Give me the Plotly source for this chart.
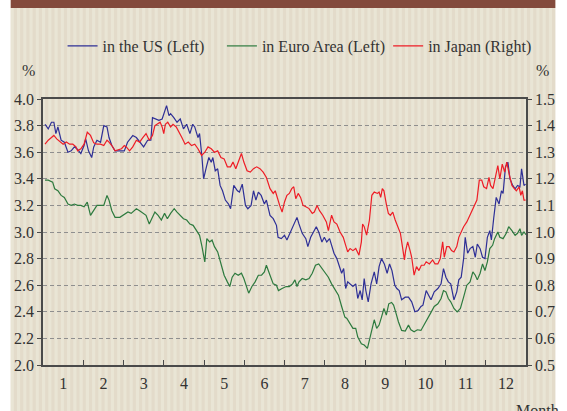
import plotly.graph_objects as go

# Long-term government bond yields, daily, plotted by month of the year
us_month = [0.05, 0.13, 0.21, 0.27, 0.32, 0.37, 0.45, 0.53, 0.62, 0.70, 0.78, 0.86, 0.94, 1.02, 1.06,
            1.13, 1.21, 1.26, 1.34, 1.43, 1.51, 1.59, 1.64, 1.71, 1.79, 1.91, 2.02, 2.10, 2.23, 2.32,
            2.40, 2.50, 2.60, 2.68, 2.72, 2.80, 2.88, 2.96, 3.00, 3.07, 3.13, 3.17, 3.25, 3.33, 3.41,
            3.49, 3.57, 3.65, 3.72, 3.77, 3.85, 3.89, 3.95, 3.99, 4.06, 4.12, 4.18, 4.22, 4.28, 4.34,
            4.40, 4.46, 4.53, 4.61, 4.66, 4.74, 4.83, 4.88, 4.95, 5.03, 5.09, 5.17, 5.23, 5.29, 5.35,
            5.42, 5.50, 5.55, 5.64, 5.72, 5.80, 5.84, 5.92, 6.00, 6.06, 6.15, 6.23, 6.31, 6.36, 6.44,
            6.53, 6.58, 6.65, 6.73, 6.79, 6.85, 6.93, 6.99, 7.05, 7.12, 7.17, 7.23, 7.30, 7.36, 7.42,
            7.47, 7.52, 7.57, 7.63, 7.70, 7.77, 7.82, 7.88, 7.93, 7.98, 8.02, 8.08, 8.15, 8.23, 8.29,
            8.35, 8.41, 8.48, 8.55, 8.61, 8.67, 8.74, 8.79, 8.85, 8.91, 9.00, 9.08, 9.16, 9.24, 9.32,
            9.39, 9.44, 9.52, 9.58, 9.64, 9.72, 9.81, 9.89, 9.95, 10.01, 10.07, 10.13, 10.21, 10.28,
            10.33, 10.39, 10.45, 10.49, 10.55, 10.61, 10.68, 10.74, 10.79, 10.86, 10.92, 10.98, 11.04,
            11.10, 11.14, 11.20, 11.26, 11.33, 11.39, 11.43, 11.49, 11.55, 11.60, 11.67, 11.73, 11.79,
            11.85, 11.89, 11.95, 11.99]
us_yield = [3.81, 3.775, 3.825, 3.825, 3.74, 3.79, 3.69, 3.675, 3.60, 3.61, 3.64, 3.62, 3.59, 3.65, 3.70,
            3.61, 3.56, 3.64, 3.69, 3.675, 3.80, 3.79, 3.71, 3.65, 3.61, 3.61, 3.61, 3.675, 3.725, 3.71,
            3.675, 3.64, 3.69, 3.69, 3.86, 3.85, 3.84, 3.85, 3.89, 3.95, 3.875, 3.89, 3.86, 3.825, 3.85,
            3.775, 3.81, 3.74, 3.81, 3.79, 3.71, 3.74, 3.56, 3.40, 3.49, 3.56, 3.525, 3.56, 3.46, 3.475,
            3.35, 3.31, 3.24, 3.21, 3.175, 3.35, 3.31, 3.30, 3.36, 3.20, 3.175, 3.20, 3.31, 3.24, 3.30,
            3.275, 3.21, 3.24, 3.125, 3.10, 3.05, 2.96, 2.95, 2.975, 2.94, 3.00, 3.05, 3.11, 3.06, 2.99,
            2.95, 2.89, 2.96, 3.00, 3.04, 3.00, 2.925, 2.96, 2.925, 2.95, 2.90, 2.84, 2.80, 2.75, 2.69,
            2.725, 2.575, 2.625, 2.61, 2.59, 2.61, 2.50, 2.56, 2.49, 2.65, 2.56, 2.475, 2.61, 2.70, 2.61,
            2.74, 2.80, 2.76, 2.69, 2.76, 2.71, 2.60, 2.575, 2.56, 2.49, 2.51, 2.51, 2.475, 2.40, 2.41,
            2.44, 2.45, 2.56, 2.525, 2.49, 2.55, 2.575, 2.61, 2.725, 2.66, 2.625, 2.61, 2.49, 2.55,
            2.64, 2.66, 2.80, 2.96, 2.84, 2.875, 2.89, 2.81, 2.91, 2.875, 2.81, 2.80, 2.96,
            3.01, 2.94, 3.11, 3.26, 3.21, 3.31, 3.29, 3.49, 3.525, 3.40, 3.35, 3.325, 3.35,
            3.34, 3.475, 3.35, 3.36]

euro_month = [0.05, 0.13, 0.24, 0.29, 0.37, 0.45, 0.53, 0.62, 0.70, 0.78, 0.86, 0.94, 1.02, 1.10, 1.18,
              1.26, 1.34, 1.43, 1.51, 1.59, 1.64, 1.71, 1.79, 1.91, 2.02, 2.11, 2.19, 2.32, 2.40, 2.48,
              2.56, 2.64, 2.70, 2.78, 2.86, 2.94, 3.02, 3.09, 3.17, 3.26, 3.33, 3.41, 3.49, 3.57, 3.65,
              3.73, 3.81, 3.89, 3.95, 4.02, 4.07, 4.14, 4.20, 4.26, 4.34, 4.42, 4.50, 4.58, 4.64, 4.70,
              4.77, 4.85, 4.93, 4.99, 5.04, 5.11, 5.19, 5.27, 5.35, 5.43, 5.50, 5.55, 5.64, 5.72, 5.80,
              5.85, 5.94, 6.04, 6.12, 6.20, 6.26, 6.31, 6.36, 6.44, 6.53, 6.61, 6.69, 6.77, 6.85, 6.93,
              7.01, 7.09, 7.17, 7.26, 7.34, 7.42, 7.50, 7.55, 7.62, 7.70, 7.77, 7.82, 7.91, 7.98, 8.06,
              8.12, 8.17, 8.23, 8.29, 8.35, 8.41, 8.47, 8.53, 8.59, 8.66, 8.71, 8.77, 8.83, 8.91, 9.00,
              9.08, 9.14, 9.22, 9.30, 9.39, 9.47, 9.55, 9.63, 9.72, 9.81, 9.89, 9.95, 10.01, 10.07,
              10.13, 10.21, 10.29, 10.37, 10.45, 10.53, 10.61, 10.68, 10.74, 10.79, 10.86, 10.92, 10.98,
              11.04, 11.10, 11.17, 11.22, 11.30, 11.35, 11.43, 11.51, 11.57, 11.65, 11.73, 11.79, 11.85,
              11.89, 11.95, 12.00]
euro_yield = [3.39, 3.39, 3.375, 3.325, 3.31, 3.275, 3.26, 3.21, 3.20, 3.21, 3.20, 3.20, 3.19, 3.225, 3.125,
              3.16, 3.20, 3.20, 3.20, 3.275, 3.24, 3.16, 3.11, 3.11, 3.13, 3.15, 3.14, 3.175, 3.16, 3.14,
              3.125, 3.06, 3.10, 3.15, 3.125, 3.09, 3.14, 3.10, 3.14, 3.175, 3.15, 3.125, 3.10, 3.09, 3.06,
              3.05, 3.01, 2.975, 2.89, 2.775, 2.95, 2.925, 2.94, 2.89, 2.85, 2.76, 2.675, 2.625, 2.59, 2.66,
              2.69, 2.675, 2.69, 2.65, 2.60, 2.54, 2.59, 2.625, 2.675, 2.675, 2.70, 2.75, 2.675, 2.61, 2.60,
              2.56, 2.575, 2.59, 2.59, 2.61, 2.64, 2.59, 2.625, 2.65, 2.64, 2.65, 2.69, 2.75, 2.76, 2.725,
              2.69, 2.66, 2.61, 2.56, 2.525, 2.44, 2.36, 2.35, 2.31, 2.275, 2.275, 2.21, 2.16, 2.15, 2.125,
              2.20, 2.26, 2.34, 2.275, 2.30, 2.36, 2.425, 2.375, 2.46, 2.47, 2.45, 2.39, 2.325, 2.26, 2.255,
              2.30, 2.265, 2.25, 2.265, 2.26, 2.30, 2.34, 2.39, 2.44, 2.46, 2.50, 2.56, 2.55, 2.50,
              2.475, 2.425, 2.40, 2.425, 2.51, 2.60, 2.625, 2.70, 2.675, 2.64, 2.69, 2.76, 2.71,
              2.775, 2.875, 2.90, 2.95, 3.00, 2.96, 2.95, 2.99, 3.04, 3.01, 2.975, 2.99, 3.025,
              2.975, 3.00, 2.98]

japan_month = [0.05, 0.13, 0.21, 0.27, 0.34, 0.42, 0.50, 0.58, 0.66, 0.74, 0.82, 0.86, 0.94, 1.02, 1.10,
               1.18, 1.26, 1.34, 1.43, 1.51, 1.59, 1.64, 1.71, 1.79, 1.87, 1.95, 2.02, 2.07, 2.15, 2.23,
               2.32, 2.40, 2.48, 2.56, 2.64, 2.72, 2.78, 2.84, 2.91, 2.96, 3.00, 3.04, 3.10, 3.17, 3.23,
               3.31, 3.37, 3.45, 3.53, 3.61, 3.69, 3.77, 3.85, 3.94, 4.02, 4.10, 4.18, 4.26, 4.34, 4.42,
               4.50, 4.58, 4.66, 4.72, 4.79, 4.85, 4.93, 4.99, 5.07, 5.15, 5.23, 5.31, 5.39, 5.47, 5.55,
               5.64, 5.72, 5.77, 5.82, 5.88, 5.94, 6.00, 6.06, 6.12, 6.18, 6.23, 6.28, 6.34, 6.40, 6.46,
               6.53, 6.61, 6.69, 6.74, 6.81, 6.87, 6.95, 7.04, 7.09, 7.17, 7.23, 7.30, 7.38, 7.46, 7.52,
               7.57, 7.63, 7.70, 7.77, 7.85, 7.91, 7.94, 7.98, 8.04, 8.11, 8.17, 8.23, 8.31, 8.35, 8.39,
               8.43, 8.47, 8.53, 8.58, 8.63, 8.69, 8.75, 8.82, 8.88, 8.93, 8.98, 9.01, 9.06, 9.12, 9.16,
               9.22, 9.28, 9.34, 9.40, 9.47, 9.52, 9.60, 9.68, 9.74, 9.81, 9.87, 9.93, 9.97, 10.03,
               10.09, 10.15, 10.21, 10.28, 10.33, 10.39, 10.45, 10.53, 10.61, 10.69, 10.78, 10.84, 10.90,
               10.95, 11.02, 11.08, 11.12, 11.18, 11.25, 11.30, 11.35, 11.41, 11.47, 11.52, 11.59, 11.65,
               11.71, 11.76, 11.83, 11.87, 11.91, 11.95, 11.99]
japan_yield = [1.33, 1.345, 1.355, 1.363, 1.35, 1.34, 1.33, 1.338, 1.33, 1.33, 1.32, 1.305, 1.313, 1.33, 1.375,
               1.363, 1.335, 1.33, 1.33, 1.325, 1.345, 1.338, 1.325, 1.305, 1.31, 1.313, 1.325, 1.32, 1.305, 1.32,
               1.345, 1.338, 1.355, 1.37, 1.345, 1.363, 1.40, 1.405, 1.413, 1.395, 1.37, 1.405, 1.413, 1.395, 1.405,
               1.395, 1.38, 1.355, 1.33, 1.338, 1.325, 1.33, 1.313, 1.288, 1.30, 1.32, 1.313, 1.30, 1.305, 1.28,
               1.275, 1.245, 1.245, 1.263, 1.238, 1.263, 1.295, 1.263, 1.23, 1.225, 1.238, 1.245, 1.238, 1.225, 1.205,
               1.163, 1.145, 1.155, 1.125, 1.10, 1.075, 1.113, 1.138, 1.145, 1.163, 1.17, 1.125, 1.145, 1.13, 1.10,
               1.095, 1.088, 1.07, 1.075, 1.10, 1.08, 1.063, 1.038, 1.005, 1.063, 1.038, 1.03, 1.00, 0.98, 0.95,
               0.925, 0.938, 0.93, 0.938, 0.913, 0.963, 1.03, 1.02, 0.988, 1.045, 1.138, 1.15, 1.145, 1.15, 1.13,
               1.163, 1.155, 1.105, 1.07, 1.063, 1.075, 1.045, 1.02, 0.995, 0.945, 0.895, 0.93, 0.963, 0.93, 0.905,
               0.838, 0.87, 0.855, 0.875, 0.875, 0.888, 0.88, 0.895, 0.88, 0.88, 0.90, 0.963, 0.905, 0.945,
               0.945, 0.93, 0.925, 0.945, 0.98, 1.00, 1.02, 1.038, 1.063, 1.088, 1.12, 1.195, 1.195,
               1.17, 1.163, 1.205, 1.175, 1.163, 1.213, 1.25, 1.20, 1.255, 1.225, 1.263, 1.213, 1.175,
               1.163, 1.155, 1.17, 1.138, 1.155, 1.12, 1.12]

month_labels = ["1", "2", "3", "4", "5", "6", "7", "8", "9", "10", "11", "12"]
left_ticks = [2.0, 2.2, 2.4, 2.6, 2.8, 3.0, 3.2, 3.4, 3.6, 3.8, 4.0]
right_ticks = [0.5, 0.6, 0.7, 0.8, 0.9, 1.0, 1.1, 1.2, 1.3, 1.4, 1.5]

W, H = 567, 411
ML, MR, MT, MB = 43, 30, 99, 46
PW, PH = W - ML - MR, H - MT - MB

FONT = "Liberation Serif, Times New Roman, serif"
FS = 16
TXT = "#333333"
AXC = "#4a4a4a"
BLUE = "#2e2f96"
GREEN = "#2d7a3e"
RED = "#ee1d26"


def px_x(px):
    return (px - ML) / PW


def px_y(py):
    return (H - MB - py) / PH


fig = go.Figure()
fig.add_trace(go.Scatter(x=euro_month, y=euro_yield, name="in Euro Area (Left)", mode="lines",
                         line=dict(color=GREEN, width=1.2), legend="legend2"))
fig.add_trace(go.Scatter(x=japan_month, y=japan_yield, name="in Japan (Right)", mode="lines",
                         yaxis="y2", line=dict(color=RED, width=1.2), legend="legend3"))
fig.add_trace(go.Scatter(x=us_month, y=us_yield, name="in the US (Left)", mode="lines",
                         line=dict(color=BLUE, width=1.2), legend="legend"))

# striped beige backdrop with a brown header band
shapes = [dict(type="rect", xref="paper", yref="paper", layer="below",
               x0=px_x(10), x1=px_x(W), y0=px_y(H), y1=px_y(0),
               fillcolor="#e3dbca", line_width=0)]
sx = 10.0
while sx < W:
    shapes.append(dict(type="rect", xref="paper", yref="paper", layer="below",
                       x0=px_x(sx), x1=px_x(min(sx + 3.2, W)), y0=px_y(H), y1=px_y(8),
                       fillcolor="#e9e5d5", line_width=0))
    sx += 6.4
shapes.append(dict(type="rect", xref="paper", yref="paper", layer="above",
                   x0=px_x(10), x1=px_x(W), y0=px_y(8), y1=px_y(0),
                   fillcolor="#834a3c", line_width=0))

annotations = [
    dict(text="%", xref="paper", yref="paper", x=px_x(28), y=px_y(70), showarrow=False,
         font=dict(family=FONT, size=FS, color=TXT), xanchor="center", yanchor="middle"),
    dict(text="%", xref="paper", yref="paper", x=px_x(554), y=px_y(70), showarrow=False,
         font=dict(family=FONT, size=FS, color=TXT), xanchor="center", yanchor="middle"),
    dict(text="Month", xref="paper", yref="paper", x=px_x(525), y=px_y(400), showarrow=False,
         font=dict(family=FONT, size=FS, color=TXT), xanchor="left", yanchor="top"),
]


def legend_at(text_left_px):
    return dict(orientation="h", x=px_x(text_left_px - 40), y=px_y(46),
                xanchor="left", yanchor="middle", bgcolor="rgba(0,0,0,0)",
                font=dict(family=FONT, size=FS, color=TXT), itemwidth=30)


fig.update_layout(
    width=W, height=H, autosize=False,
    margin=dict(l=ML, r=MR, t=MT, b=MB, pad=0),
    paper_bgcolor="#ffffff", plot_bgcolor="rgba(0,0,0,0)",
    font=dict(family=FONT, size=FS, color=TXT),
    shapes=shapes, annotations=annotations,
    showlegend=True,
    legend=legend_at(103),
    legend2=legend_at(266),
    legend3=legend_at(436),
    xaxis=dict(range=[0, 12], tickmode="array", tickvals=[m - 0.5 for m in range(1, 13)],
               ticktext=month_labels, ticks="", showgrid=False, zeroline=False,
               showline=True, linecolor=AXC, linewidth=1.5, mirror=True,
               ticklabelstandoff=3,
               minor=dict(tickmode="array", tickvals=list(range(1, 12)), ticks="inside",
                          ticklen=5, tickwidth=1, tickcolor=AXC, showgrid=False)),
    yaxis=dict(range=[2.0, 4.0], tickmode="array", tickvals=left_ticks, tickformat=".1f",
               ticks="outside", ticklen=4, tickwidth=1, tickcolor=AXC,
               showline=True, linecolor=AXC, linewidth=1.5, zeroline=False,
               showgrid=True, gridcolor="#8f8f8f", gridwidth=1, griddash="4px,3px"),
    yaxis2=dict(range=[0.5, 1.5], tickmode="array", tickvals=right_ticks, tickformat=".1f",
                overlaying="y", side="right", anchor="x",
                ticks="outside", ticklen=4, tickwidth=1, tickcolor=AXC,
                showline=True, linecolor=AXC, linewidth=1.5, zeroline=False, showgrid=False),
)

fig.write_html("out.html")
